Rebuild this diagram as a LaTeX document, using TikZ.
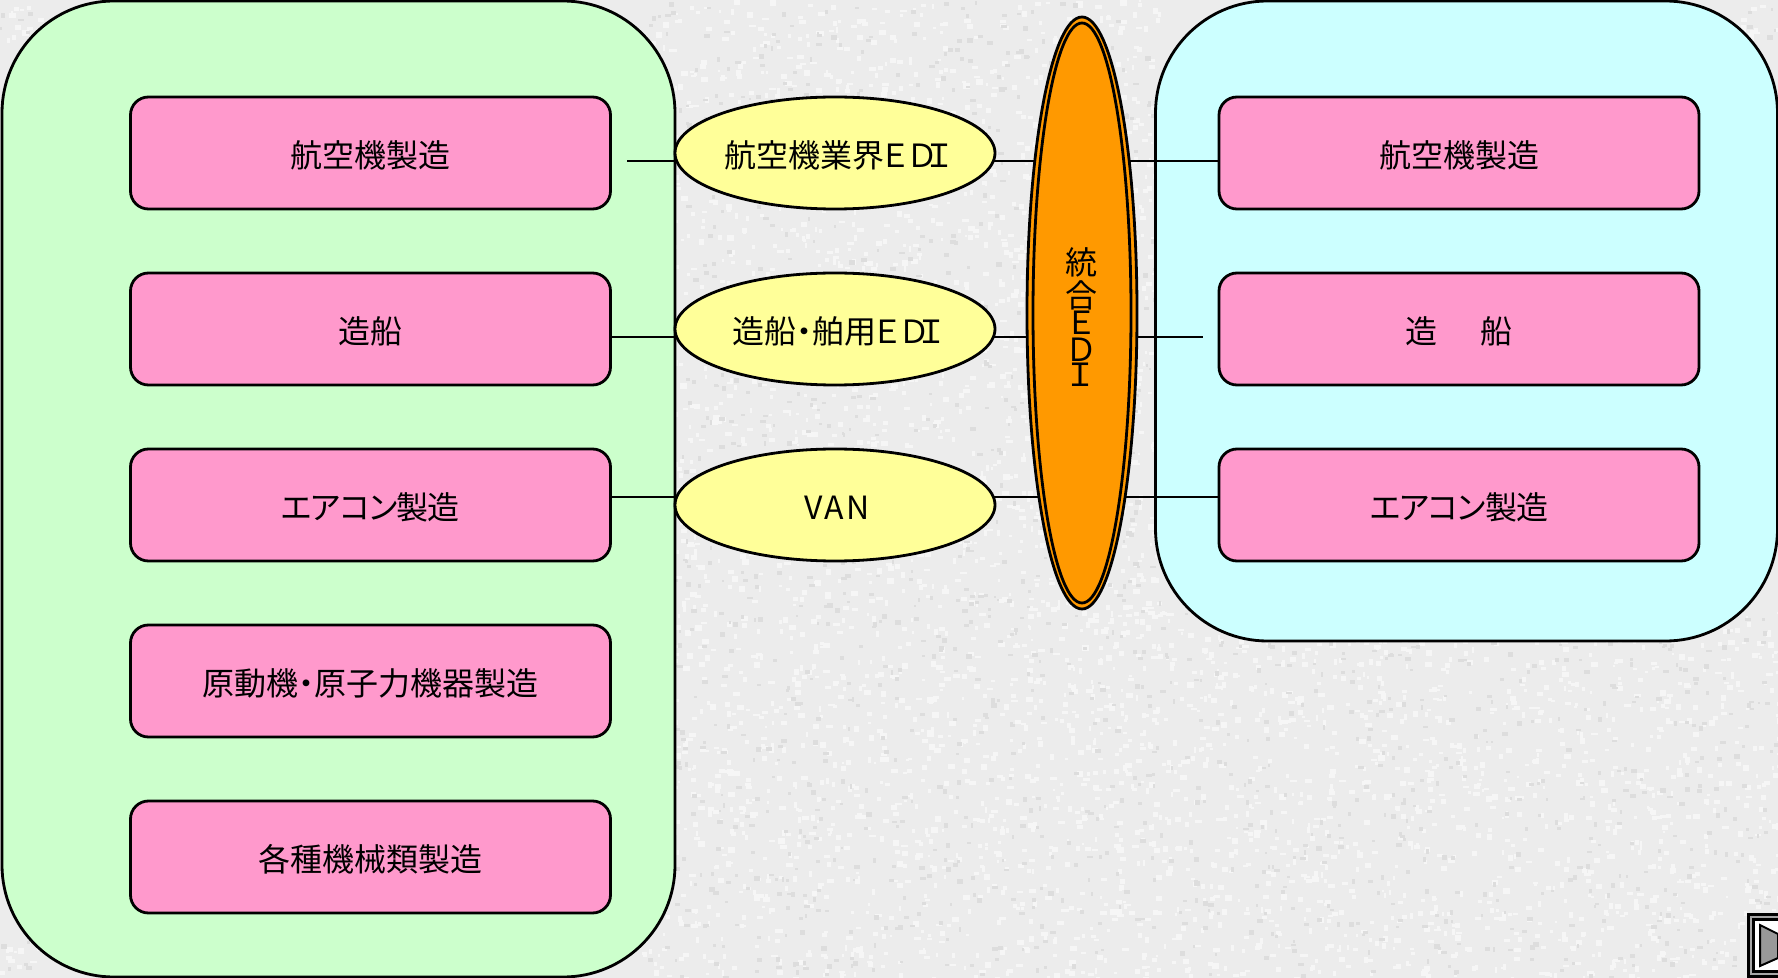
\documentclass[tikz,border=0pt]{standalone}
\usepackage{fontspec}
\setmainfont[RawFeature=+palt]{Noto Sans CJK JP}
\usetikzlibrary{shapes.geometric}
\definecolor{bgbase}{HTML}{ECECEC}
\definecolor{speckA}{HTML}{F6F6F6}
\definecolor{speckB}{HTML}{DDDDDD}
\definecolor{panelgreen}{HTML}{CCFFCC}
\definecolor{panelcyan}{HTML}{CCFFFF}
\definecolor{boxpink}{HTML}{FF99CC}
\definecolor{ovalyellow}{HTML}{FFFF99}
\definecolor{ovalorange}{HTML}{FF9900}
\pgfdeclarelayer{under}
\pgfdeclarelayer{links}
\pgfsetlayers{under,links,main}
\newcommand{\lbl}[1]{\raisebox{-7.1pt}[0pt][0pt]{\makebox[0pt][c]{#1}}}
\newcommand{\edi}{\hspace{-1pt}Ｅ\hspace{1pt}Ｄ\hspace{-4.5pt}Ｉ\hspace{-3pt}}
\newcommand{\kanatight}{\addfontfeature{LetterSpace=-3}}
\tikzset{
  px/.style={x=0.5pt,y=-0.5pt},
  outline/.style={draw=black,line width=1.4pt},
  panelbox/.style={outline,rectangle,rounded corners=56pt,inner sep=0pt},
  itembox/.style={outline,rectangle,rounded corners=9pt,fill=boxpink,minimum width=240pt,minimum height=56pt,inner sep=0pt,font=\fontsize{16}{16}\selectfont,text=black},
  oval/.style={outline,ellipse,fill=ovalyellow,minimum width=160pt,minimum height=56pt,inner sep=0pt,font=\fontsize{16}{16}\selectfont,text=black},
  hubring/.style={outline,ellipse,fill=ovalorange,inner sep=0pt},
  link/.style={draw=black,line width=1.2pt},
  txt/.style={inner sep=0pt,font=\fontsize{16}{16}\selectfont,text=black}
}
\begin{document}
\begin{tikzpicture}[px]
\useasboundingbox (0,0) rectangle (1778,978);
\begin{pgfonlayer}{under}
  \fill[bgbase] (0,0) rectangle (1778,978);
  \pgfmathsetseed{4711}
  % visible ground only: x0/y0/w/h/light specks/dark specks
  \foreach \xo/\yo/\wo/\ho/\na/\nb in {640/0/520/978/2600/1000, 1160/610/618/368/1200/480, 0/0/40/40/12/5, 0/935/40/43/12/5, 1738/0/40/40/12/5}{
    \foreach \i in {1,...,\na}{
      \pgfmathsetmacro{\xa}{\xo+rnd*\wo}
      \pgfmathsetmacro{\ya}{\yo+rnd*\ho}
      \pgfmathsetmacro{\wa}{2+rnd*5}
      \pgfmathsetmacro{\ha}{2+rnd*4}
      \fill[speckA] (\xa,\ya) rectangle ++(\wa,\ha);
    }
    \foreach \i in {1,...,\nb}{
      \pgfmathsetmacro{\xa}{\xo+rnd*\wo}
      \pgfmathsetmacro{\ya}{\yo+rnd*\ho}
      \pgfmathsetmacro{\wa}{2+rnd*4}
      \pgfmathsetmacro{\ha}{2+rnd*3}
      \fill[speckB] (\xa,\ya) rectangle ++(\wa,\ha);
    }
  }
  \node[panelbox,fill=panelgreen,minimum width=336.5pt,minimum height=488pt] (leftpanel) at (338.5,489) {};
  \node[panelbox,fill=panelcyan,minimum width=311pt,minimum height=320pt] (rightpanel) at (1466.5,321) {};
\end{pgfonlayer}

\node[itembox] (a1) at (370.5,153) {\lbl{航空機製造}};
\node[itembox] (a2) at (370.5,329) {\lbl{造船}};
\node[itembox] (a3) at (370.5,505) {\lbl{\kanatight エアコン製造}};
\node[itembox] (a4) at (370.5,681) {\lbl{原動機・原子力機器製造}};
\node[itembox] (a5) at (370.5,857) {\lbl{各種機械類製造}};

\node[itembox] (b1) at (1459,153) {\lbl{航空機製造}};
\node[itembox] (b2) at (1459,329) {\lbl{造\hspace{22pt}船}};
\node[itembox] (b3) at (1459,505) {\lbl{\kanatight エアコン製造}};

\node[oval] (e1) at (835,153) {\lbl{航空機業界\edi}};
\node[oval] (e2) at (835,329) {\lbl{造船・舶用\edi}};
\node[oval] (e3) at (835,505) {\lbl{\hspace{2pt}\addfontfeature{LetterSpace=8}VAN}};

\node[hubring,minimum width=55pt,minimum height=296pt] (hub) at (1082,313) {};
\node[hubring,minimum width=49pt,minimum height=290pt] (hubin) at (1082,313) {};
\node[txt] (hubt1) at (1081,260) {\lbl{統}};
\node[txt] (hubt2) at (1081,293) {\lbl{合}};
\node[txt] (hubt3) at (1081,320) {\lbl{Ｅ}};
\node[txt] (hubt4) at (1081,347) {\lbl{Ｄ}};
\node[txt] (hubt5) at (1081,372) {\lbl{Ｉ}};

\coordinate (r1) at (627,161);
\coordinate (r2) at (0,337);
\coordinate (r3) at (0,497);
\coordinate (r2end) at (1203,337);
\begin{pgfonlayer}{links}
  \draw[link] (r1) -- (e1.center |- r1) -- (hub.center |- r1) -- (b1.center |- r1);
  \draw[link] (a2.center |- r2) -- (e2.center |- r2) -- (hub.center |- r2) -- (r2end);
  \draw[link] (a3.center |- r3) -- (e3.center |- r3) -- (hub.center |- r3) -- (b3.center |- r3);
\end{pgfonlayer}

% navigation button at the corner
\fill[black] (1747,913) rectangle (1778,978);
\fill[gray!70] (1750,916) rectangle (1778,975);
\fill[black] (1752,918) rectangle (1778,973);
\fill[white] (1755,921) rectangle (1778,970);
\draw[fill=gray!80!white,line width=1pt] (1760,925) -- (1778,934) -- (1778,958) -- (1760,966) -- cycle;
\end{tikzpicture}
\end{document}
